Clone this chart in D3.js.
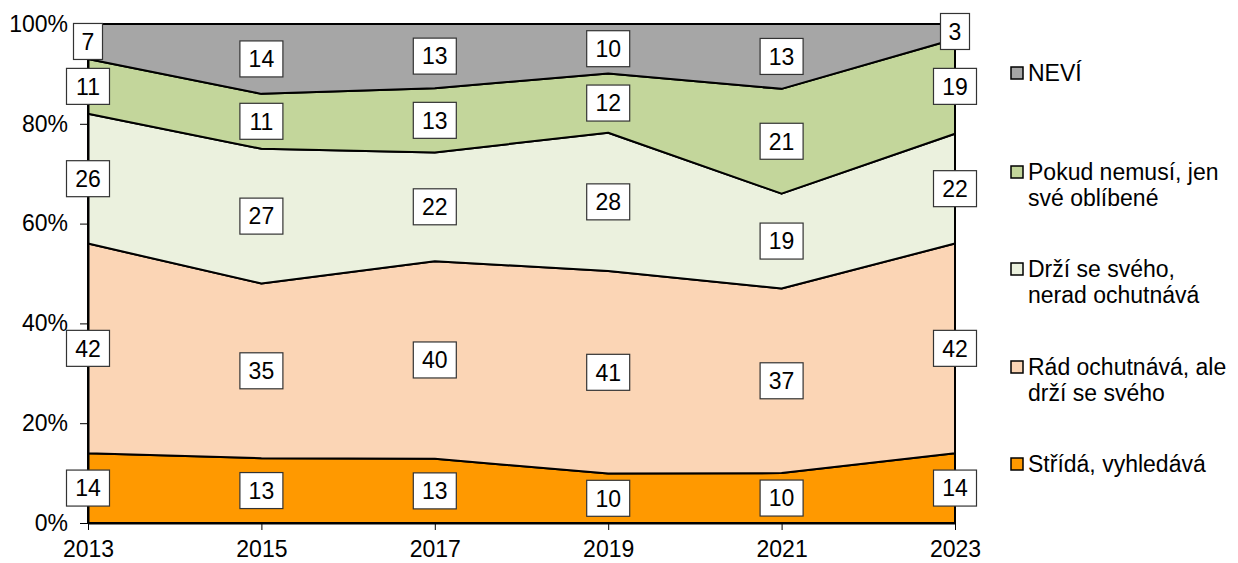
<!DOCTYPE html>
<html>
<head>
<meta charset="utf-8">
<script src="https://cdn.jsdelivr.net/npm/d3@7"></script>
<style>
  body { margin: 0; background: #fff; }
  svg { font-family: "Liberation Sans", Arial, sans-serif; }
</style>
</head>
<body>
<svg id="chart" width="1238" height="563"></svg>
<script>
// Data
const years = [2013, 2015, 2017, 2019, 2021, 2023];
const stridaVyhledava = [14, 13, 13, 10, 10, 14];
const radOchutnava = [42, 35, 40, 41, 37, 42];
const drziSeSveho = [26, 27, 22, 28, 19, 22];
const pokudNemusi = [11, 11, 13, 12, 21, 19];
const nevi = [7, 14, 13, 10, 13, 3];
const yTicks = [0, 0.2, 0.4, 0.6, 0.8, 1];

const series = [
  { key: 'strida', label: ['Střídá, vyhledává'], values: stridaVyhledava, color: '#FF9900' },
  { key: 'rad', label: ['Rád ochutnává, ale', 'drží se svého'], values: radOchutnava, color: '#FBD5B5' },
  { key: 'drzi', label: ['Drží se svého,', 'nerad ochutnává'], values: drziSeSveho, color: '#EBF1DE' },
  { key: 'pokud', label: ['Pokud nemusí, jen', 'své oblíbené'], values: pokudNemusi, color: '#C3D69B' },
  { key: 'nevi', label: ['NEVÍ'], values: nevi, color: '#A6A6A6' }
];

// Table for d3.stack
const table = years.map((y, i) => {
  const row = { year: y };
  series.forEach(s => row[s.key] = s.values[i]);
  return row;
});

const stack = d3.stack()
  .keys(series.map(s => s.key))
  .offset(d3.stackOffsetExpand);
const stacked = stack(table);

const svg = d3.select('#chart');
const margin = { left: 88, right: 283, top: 24, bottom: 40 };
const width = 1238, height = 563;

const x = d3.scalePoint().domain(years).range([margin.left, width - margin.right]);
const y = d3.scaleLinear().domain([0, 1]).range([height - margin.bottom, margin.top]);

const area = d3.area()
  .x(d => x(d.data.year))
  .y0(d => y(d[0]))
  .y1(d => y(d[1]));

// Areas
svg.append('g')
  .selectAll('path')
  .data(stacked)
  .join('path')
  .attr('d', area)
  .attr('fill', (d, i) => series[i].color)
  .attr('stroke', '#000')
  .attr('stroke-width', 2)
  .attr('stroke-linejoin', 'round');

const fontSize = 23;

// Y axis
const yAxis = svg.append('g')
  .attr('transform', `translate(${margin.left},0)`)
  .call(d3.axisLeft(y).tickValues(yTicks).tickFormat(d3.format('.0%')).tickSize(8).tickSizeOuter(0));
yAxis.select('.domain').attr('stroke', '#000').attr('stroke-width', 2);
yAxis.selectAll('.tick line').attr('stroke', '#000');
yAxis.selectAll('.tick text')
  .attr('font-size', fontSize)
  .attr('font-family', '"Liberation Sans", Arial, sans-serif')
  .attr('fill', '#000')
  .attr('x', -20);

// X axis
const xAxis = svg.append('g')
  .attr('transform', `translate(0,${height - margin.bottom})`)
  .call(d3.axisBottom(x).tickSize(7).tickSizeOuter(0));
xAxis.select('.domain').attr('stroke', '#000').attr('stroke-width', 2);
xAxis.selectAll('.tick line').attr('stroke', '#000');
xAxis.selectAll('.tick text')
  .attr('font-size', fontSize)
  .attr('font-family', '"Liberation Sans", Arial, sans-serif')
  .attr('fill', '#000')
  .attr('y', 18)
  .attr('dy', '0.71em');

// Data labels
const labels = svg.append('g');
stacked.forEach((layer, si) => {
  layer.forEach((d, i) => {
    const cx = x(d.data.year);
    const cy = y((d[0] + d[1]) / 2);
    const g = labels.append('g').attr('transform', `translate(${cx},${cy})`);
    const txt = String(series[si].values[i]);
    const w = txt.length === 1 ? 29 : 43;
    g.append('rect')
      .attr('x', -w / 2).attr('y', -18)
      .attr('width', w).attr('height', 36)
      .attr('fill', '#fff')
      .attr('stroke', '#333')
      .attr('stroke-width', 1.2);
    g.append('text')
      .attr('text-anchor', 'middle')
      .attr('dy', '0.36em')
      .attr('font-size', fontSize)
      .text(txt);
  });
});

// Legend
const legendItems = [
  { s: series[4], y: 73 },
  { s: series[3], y: 172 },
  { s: series[2], y: 269 },
  { s: series[1], y: 367 },
  { s: series[0], y: 464 }
];
const legend = svg.append('g');
legendItems.forEach(item => {
  legend.append('rect')
    .attr('x', 1011).attr('y', item.y - 6)
    .attr('width', 12).attr('height', 12)
    .attr('fill', item.s.color)
    .attr('stroke', '#000')
    .attr('stroke-width', 1.5);
  item.s.label.forEach((line, li) => {
    legend.append('text')
      .attr('x', 1028)
      .attr('y', item.y + li * 26)
      .attr('dy', '0.36em')
      .attr('font-size', fontSize)
      .text(line);
  });
});
</script>
</body>
</html>
